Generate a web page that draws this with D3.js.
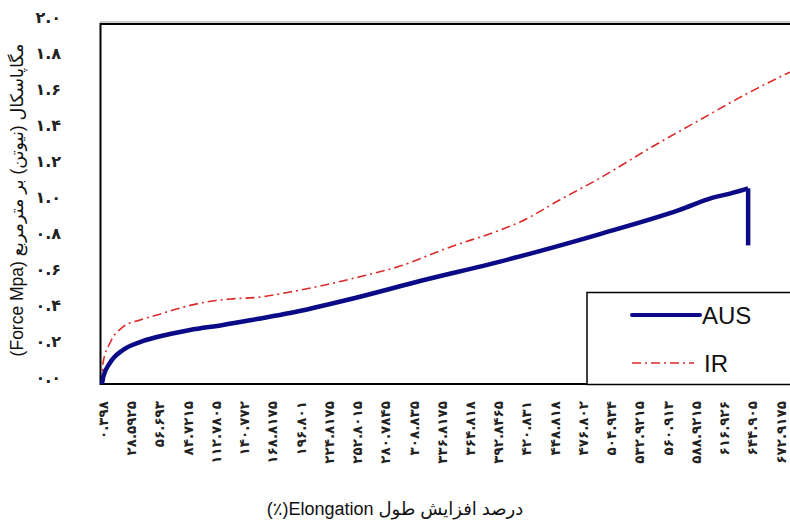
<!DOCTYPE html>
<html>
<head>
<meta charset="utf-8">
<script src="https://cdn.jsdelivr.net/npm/d3@7/dist/d3.min.js"></script>
<style>
  body { margin: 0; background: #fff; }
  svg { display: block; }
</style>
</head>
<body>
<div id="chart"></div>
<script>
// elongation (%) values used as tick labels
const xTicks = [0.398, 28.5925, 56.693, 84.7215, 112.7805, 140.772, 168.8175, 196.801,
  224.8175, 252.8015, 280.7845, 308.835, 336.8175, 364.818, 392.8465, 420.831, 448.818,
  476.802, 504.934, 532.9215, 560.913, 588.9215, 616.926, 644.905, 672.9175];
const yTicks = [0, 0.2, 0.4, 0.6, 0.8, 1.0, 1.2, 1.4, 1.6, 1.8, 2.0];

// AUS series (elongation, force) - last point is the break
const ausX = [0, 1.3, 7.9, 20.8, 37.7, 54.6, 87.3, 120, 153.8, 186.5, 251, 315.5, 394.8, 494, 573, 606, 623, 641, 641];
const ausY = [0, 0.04, 0.117, 0.189, 0.233, 0.261, 0.3, 0.328, 0.361, 0.394, 0.478, 0.572, 0.68, 0.833, 0.967, 1.035, 1.058, 1.087, 0.77];

// IR series
const irX = [0, 1, 7.9, 20.8, 37.7, 54.6, 70.4, 104, 127, 156.7, 186.5, 216, 251, 295.6, 345, 394.8, 414.7, 454, 494, 543.7, 593, 642.9, 682.5];
const irY = [0, 0.117, 0.228, 0.317, 0.356, 0.383, 0.411, 0.456, 0.472, 0.483, 0.511, 0.544, 0.589, 0.655, 0.76, 0.855, 0.9, 1.022, 1.144, 1.311, 1.467, 1.622, 1.733];

const seriesNames = ["AUS", "IR"];

const width = 790, height = 522;
const faDigits = "۰۱۲۳۴۵۶۷۸۹";
const toFa = s => String(s).replace(/[0-9]/g, d => faDigits[+d]);

const svg = d3.select("#chart").append("svg")
    .attr("width", width)
    .attr("height", height);

const x = d3.scaleLinear().domain([0, 690]).range([102, 102 + 690 * 1.008]);
const y = d3.scaleLinear().domain([0, 2]).range([384, 24]);

// plot frame (right side runs past the picture)
svg.append("rect")
    .attr("x", 100.5).attr("y", 24)
    .attr("width", 720).attr("height", 360)
    .attr("fill", "#fff")
    .attr("stroke", "#000")
    .attr("stroke-width", 2);
svg.append("line")
    .attr("x1", 100).attr("x2", 790)
    .attr("y1", 22).attr("y2", 22)
    .attr("stroke", "#999").attr("stroke-width", 1);

// y axis labels
const yAxis = svg.append("g")
    .attr("transform", "translate(64,0)")
    .call(d3.axisLeft(y).tickValues(yTicks).tickSize(0).tickFormat(d => toFa(d.toFixed(1))));
yAxis.select(".domain").remove();
yAxis.selectAll("text")
    .attr("dy", "-0.1em")
    .attr("font-family", "DejaVu Sans")
    .attr("font-weight", "bold")
    .attr("font-size", 16)
    .attr("fill", "#222");

// x axis labels, rotated
const xAxis = svg.append("g")
    .attr("transform", "translate(0,401)")
    .call(d3.axisBottom(x).tickValues(xTicks).tickSize(0).tickFormat(d => toFa(d)));
xAxis.select(".domain").remove();
xAxis.selectAll("text")
    .attr("transform", "rotate(-90)")
    .attr("text-anchor", "end")
    .attr("x", 0).attr("y", 0)
    .attr("dy", "0.35em")
    .attr("font-family", "DejaVu Sans")
    .attr("font-weight", "bold")
    .attr("font-size", 13.5)
    .attr("fill", "#222");

const smooth = d3.line().x(d => x(d[0])).y(d => y(d[1])).curve(d3.curveMonotoneX);
const straight = d3.line().x(d => x(d[0])).y(d => y(d[1]));

// IR line (dash-dot)
svg.append("path")
    .datum(d3.zip(irX, irY))
    .attr("d", smooth)
    .attr("fill", "none")
    .attr("stroke", "#dc2a2a")
    .attr("stroke-width", 1.6)
    .attr("stroke-dasharray", "9,4,2,4");

// AUS line: smooth rise, then straight drop at the break
const aus = d3.zip(ausX, ausY);
const ausG = svg.append("g")
    .attr("fill", "none")
    .attr("stroke", "#0b0b88")
    .attr("stroke-width", 4.5)
    .attr("stroke-linejoin", "round");
ausG.append("path").attr("d", smooth(aus.slice(0, -1)));
ausG.append("path").attr("d", straight(aus.slice(-2)));

// legend
const legend = svg.append("g");
legend.append("rect")
    .attr("x", 587).attr("y", 292.5)
    .attr("width", 240).attr("height", 92)
    .attr("fill", "#fff")
    .attr("stroke", "#000")
    .attr("stroke-width", 1.5);
legend.append("line")
    .attr("x1", 632).attr("x2", 700)
    .attr("y1", 315).attr("y2", 315)
    .attr("stroke", "#0b0b88").attr("stroke-width", 4)
    .attr("stroke-linecap", "round");
legend.append("line")
    .attr("x1", 632).attr("x2", 694)
    .attr("y1", 363).attr("y2", 363)
    .attr("stroke", "#dc2a2a").attr("stroke-width", 1.6)
    .attr("stroke-dasharray", "9,4,2,4");
legend.selectAll("text.leg")
    .data(seriesNames)
    .enter().append("text")
    .attr("class", "leg")
    .attr("x", (d, i) => i === 0 ? 702 : 704)
    .attr("y", (d, i) => i === 0 ? 324 : 372)
    .attr("font-family", "Liberation Sans, Arial, sans-serif")
    .attr("font-size", 24)
    .attr("fill", "#111")
    .text(d => d);

// axis titles
svg.append("text")
    .attr("x", 395).attr("y", 515)
    .attr("text-anchor", "middle")
    .attr("direction", "rtl")
    .attr("font-family", "Liberation Sans, DejaVu Sans, sans-serif")
    .attr("font-size", 18)
    .attr("fill", "#111")
    .text("درصد افزایش طول Elongation(٪)");

svg.append("text")
    .attr("transform", "translate(23,200) rotate(-90)")
    .attr("text-anchor", "middle")
    .attr("direction", "rtl")
    .attr("font-family", "Liberation Sans, DejaVu Sans, sans-serif")
    .attr("font-size", 17.5)
    .attr("fill", "#111")
    .text("مگاپاسکال (نیوتن) بر مترمربع (Force Mpa)");
</script>
</body>
</html>
